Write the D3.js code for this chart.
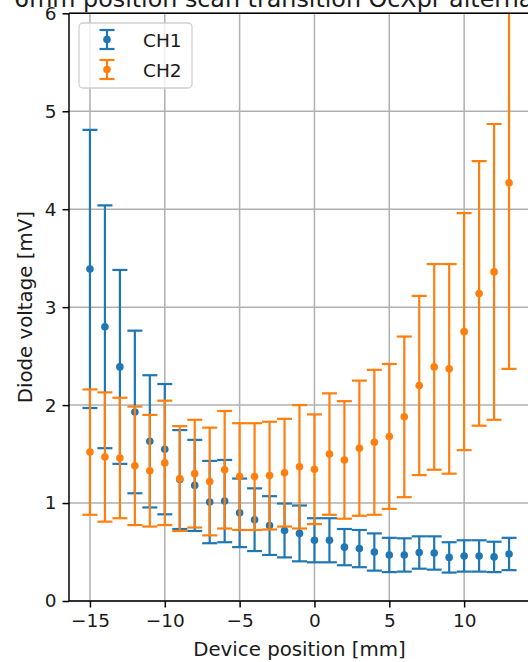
<!DOCTYPE html>
<html>
<head>
<meta charset="utf-8">
<script src="https://cdn.jsdelivr.net/npm/d3@7"></script>
<style>
  html, body { margin: 0; padding: 0; background: #fff; overflow: hidden; }
  svg { display: block; font-family: "DejaVu Sans", sans-serif; }
</style>
</head>
<body>
<script>
// Scan positions [mm]
const positions = [-15,-14,-13,-12,-11,-10,-9,-8,-7,-6,-5,-4,-3,-2,-1,0,1,2,3,4,5,6,7,8,9,10,11,12,13];

// CH1 diode voltage [mV] and its symmetric error
const ch1Mean = [3.39,2.80,2.39,1.93,1.63,1.55,1.24,1.18,1.01,1.02,0.90,0.83,0.77,0.72,0.69,0.62,0.62,0.55,0.535,0.50,0.47,0.47,0.495,0.49,0.445,0.46,0.46,0.45,0.48];
const ch1Err  = [1.42,1.24,0.99,0.83,0.675,0.665,0.505,0.465,0.42,0.42,0.35,0.32,0.30,0.275,0.285,0.225,0.225,0.185,0.19,0.19,0.175,0.17,0.165,0.17,0.155,0.16,0.16,0.155,0.165];

// CH2 diode voltage [mV] and its symmetric error
const ch2Mean = [1.52,1.47,1.46,1.38,1.33,1.41,1.25,1.30,1.22,1.34,1.27,1.27,1.28,1.31,1.37,1.345,1.50,1.44,1.56,1.62,1.68,1.88,2.20,2.39,2.37,2.75,3.14,3.36,4.27];
const ch2Err  = [0.64,0.66,0.615,0.605,0.57,0.635,0.535,0.55,0.55,0.60,0.545,0.545,0.55,0.55,0.63,0.56,0.62,0.60,0.69,0.74,0.74,0.82,0.915,1.05,1.07,1.21,1.35,1.51,1.90];

const xTicks = [-15,-10,-5,0,5,10];
const yTicks = [0,1,2,3,4,5,6];
const seriesNames = ["CH1","CH2"];
const seriesColors = ["#1f77b4","#ff7f0e"];
const titleText = "6mm position scan transition OcXpr alternating";
const xLabel = "Device position [mm]";
const yLabel = "Diode voltage [mV]";

const W = 528, H = 662;
const plot = { left: 69, right: 530, top: 13.3, bottom: 601 };

const svg = d3.select("body").append("svg").attr("width", W).attr("height", H);

const x = d3.scaleLinear().domain([-16.4, 14.4]).range([plot.left, plot.right]);
const y = d3.scaleLinear().domain([0, 6]).range([plot.bottom, plot.top]);

const FS = 18.5;      // tick labels and legend
const LFS = 19.8;     // axis labels
const gridColor = "#b0b0b0";

// grid
const grid = svg.append("g");
grid.selectAll("line.gx").data(xTicks).join("line")
  .attr("x1", d => x(d)).attr("x2", d => x(d))
  .attr("y1", plot.top).attr("y2", plot.bottom)
  .attr("stroke", gridColor).attr("stroke-width", 1.5);
grid.selectAll("line.gy").data(yTicks).join("line")
  .attr("x1", plot.left).attr("x2", plot.right)
  .attr("y1", d => y(d)).attr("y2", d => y(d))
  .attr("stroke", gridColor).attr("stroke-width", 1.5);

// clip region for the data
svg.append("clipPath").attr("id", "plotclip").append("rect")
  .attr("x", plot.left).attr("y", plot.top)
  .attr("width", plot.right - plot.left).attr("height", plot.bottom - plot.top);

const series = [
  { name: seriesNames[0], color: seriesColors[0], mean: ch1Mean, err: ch1Err },
  { name: seriesNames[1], color: seriesColors[1], mean: ch2Mean, err: ch2Err }
];

const capHalf = 7.5;
const data = svg.append("g").attr("clip-path", "url(#plotclip)");
series.forEach(s => {
  const pts = positions.map((p, i) => ({ p, m: s.mean[i], e: s.err[i] }));
  const g = data.append("g");
  g.selectAll("line.bar").data(pts).join("line")
    .attr("x1", d => x(d.p)).attr("x2", d => x(d.p))
    .attr("y1", d => y(d.m - d.e)).attr("y2", d => y(d.m + d.e))
    .attr("stroke", s.color).attr("stroke-width", 2.2);
  ["lo","hi"].forEach(k => {
    g.selectAll("line.cap" + k).data(pts).join("line")
      .attr("x1", d => x(d.p) - capHalf).attr("x2", d => x(d.p) + capHalf)
      .attr("y1", d => y(k === "lo" ? d.m - d.e : d.m + d.e))
      .attr("y2", d => y(k === "lo" ? d.m - d.e : d.m + d.e))
      .attr("stroke", s.color).attr("stroke-width", 2.2);
  });
  g.selectAll("circle").data(pts).join("circle")
    .attr("cx", d => x(d.p)).attr("cy", d => y(d.m)).attr("r", 3.8)
    .attr("fill", s.color);
});

// axes
const xAxis = d3.axisBottom(x).tickValues(xTicks).tickSize(6.5).tickPadding(6)
  .tickFormat(d => d < 0 ? "\u2212" + Math.abs(d) : String(d));
const gx = svg.append("g").attr("transform", `translate(0,${plot.bottom})`).call(xAxis);
const yAxis = d3.axisLeft(y).tickValues(yTicks).tickSize(6.5).tickPadding(6).tickFormat(d3.format("d"));
const gy = svg.append("g").attr("transform", `translate(${plot.left},0)`).call(yAxis);
[gx, gy].forEach(g => {
  g.select(".domain").remove();
  g.selectAll(".tick line").attr("stroke", "#000").attr("stroke-width", 1.5);
  g.selectAll(".tick text").attr("fill", "#1a1a1a").style("font-size", FS + "px")
    .style("font-family", "DejaVu Sans, sans-serif");
});

// spines (the right one lies just past the page edge)
const sp = svg.append("g").attr("stroke", "#000").attr("stroke-width", 1.5);
sp.append("line").attr("x1", plot.left).attr("x2", plot.left).attr("y1", plot.top).attr("y2", plot.bottom);
sp.append("line").attr("x1", plot.left).attr("x2", plot.right).attr("y1", plot.bottom).attr("y2", plot.bottom);
sp.append("line").attr("x1", plot.left).attr("x2", plot.right).attr("y1", plot.top).attr("y2", plot.top);
sp.append("line").attr("x1", plot.right).attr("x2", plot.right).attr("y1", plot.top).attr("y2", plot.bottom);

// axis labels
svg.append("text").attr("x", (plot.left + plot.right) / 2).attr("y", 656)
  .attr("text-anchor", "middle").style("font-size", LFS + "px").attr("fill", "#1a1a1a").text(xLabel);
svg.append("text").attr("transform", `translate(32,${(plot.top + plot.bottom) / 2}) rotate(-90)`)
  .attr("text-anchor", "middle").style("font-size", LFS + "px").attr("fill", "#1a1a1a").text(yLabel);

// title
svg.append("text").attr("x", 14).attr("y", 6.5)
  .attr("text-anchor", "start").style("font-size", "23.8px").attr("fill", "#1a1a1a").text(titleText);

// legend
const lg = svg.append("g").attr("transform", "translate(79,23)");
lg.append("rect").attr("width", 113).attr("height", 65).attr("rx", 4)
  .attr("fill", "#fff").attr("fill-opacity", 0.8).attr("stroke", "#d0d0d0").attr("stroke-width", 1.3);
series.forEach((s, i) => {
  const cy = 16.5 + i * 30;
  const row = lg.append("g");
  row.append("line").attr("x1", 28).attr("x2", 28).attr("y1", cy - 9.5).attr("y2", cy + 9.5)
    .attr("stroke", s.color).attr("stroke-width", 2.2);
  [-9.5, 9.5].forEach(o => row.append("line").attr("x1", 28 - capHalf).attr("x2", 28 + capHalf)
    .attr("y1", cy + o).attr("y2", cy + o).attr("stroke", s.color).attr("stroke-width", 2.2));
  row.append("circle").attr("cx", 28).attr("cy", cy).attr("r", 3.8).attr("fill", s.color);
  row.append("text").attr("x", 64).attr("y", cy + 7.3).style("font-size", FS + "px")
    .attr("fill", "#1a1a1a").text(s.name);
});
</script>
</body>
</html>
